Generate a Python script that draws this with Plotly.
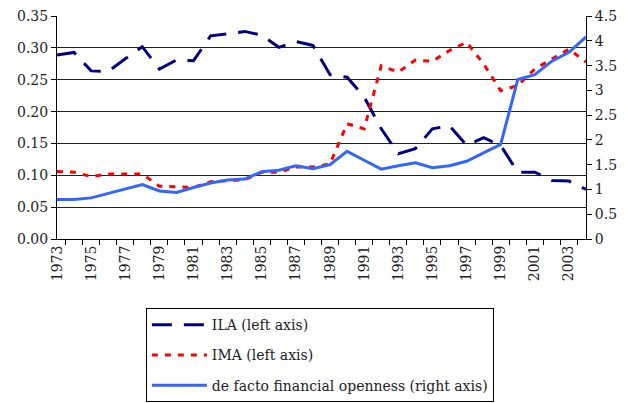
import plotly.graph_objects as go

years = [str(y) for y in range(1973, 2005)]

ila = [0.289, 0.293, 0.264, 0.263, 0.283, 0.302, 0.267, 0.281, 0.280, 0.319,
       0.322, 0.326, 0.320, 0.301, 0.310, 0.304, 0.258, 0.254, 0.223, 0.173,
       0.134, 0.142, 0.173, 0.178, 0.147, 0.159, 0.147, 0.105, 0.105, 0.092,
       0.091, 0.078]

ima = [0.106, 0.105, 0.098, 0.102, 0.102, 0.102, 0.083, 0.082, 0.081, 0.090,
       0.092, 0.093, 0.105, 0.105, 0.113, 0.113, 0.118, 0.181, 0.173, 0.272,
       0.262, 0.281, 0.279, 0.296, 0.309, 0.275, 0.233, 0.241, 0.267, 0.283,
       0.298, 0.278]

openness = [0.80, 0.80, 0.83, 0.92, 1.01, 1.10, 0.97, 0.94, 1.04, 1.13,
            1.19, 1.21, 1.36, 1.39, 1.48, 1.42, 1.50, 1.77, 1.59, 1.41,
            1.48, 1.54, 1.44, 1.48, 1.57, 1.74, 1.91, 3.22, 3.32, 3.59,
            3.77, 4.08]

year_labels = [y if i % 2 == 0 else "" for i, y in enumerate(years)]

font = "DejaVu Serif"

fig = go.Figure()

fig.add_trace(go.Scatter(
    x=years, y=ila, name="ILA (left axis)", mode="lines", legendgroup="a",
    line=dict(color="#000080", width=3, dash="20px,12px")
))
fig.add_trace(go.Scatter(
    x=years, y=ima, name="IMA (left axis)", mode="lines", legendgroup="b",
    line=dict(color="#FF0000", width=3, dash="6px,7px")
))
fig.add_trace(go.Scatter(
    x=years, y=openness, name="de facto financial openness (right axis)",
    mode="lines", yaxis="y2", legendgroup="c",
    line=dict(color="#3366FF", width=3)
))

# page body has an 8px margin, so the figure is drawn offset by (8, 8)
fig.update_layout(
    width=617, height=395,
    margin=dict(l=49, r=39, t=8, b=164, autoexpand=False),
    plot_bgcolor="white", paper_bgcolor="white",
    font=dict(family=font, size=14, color="#222"),
    xaxis=dict(
        type="category", tickmode="array", tickvals=years, ticktext=year_labels,
        tickangle=-90, tickson="boundaries", ticks="outside", ticklen=5,
        tickcolor="black", showline=True, linecolor="black", linewidth=1,
        showgrid=False
    ),
    yaxis=dict(
        range=[0, 0.3502], tickvals=[0, 0.05, 0.1, 0.15, 0.2, 0.25, 0.3, 0.35],
        tickformat=".2f", ticks="outside",
        ticklen=5, tickcolor="black", showline=True, linecolor="black",
        linewidth=1, gridcolor="#222", gridwidth=1, zeroline=False
    ),
    yaxis2=dict(
        range=[0, 4.5025], tickvals=[0, 0.5, 1, 1.5, 2, 2.5, 3, 3.5, 4, 4.5],
        overlaying="y", side="right",
        ticks="outside", ticklen=5, tickcolor="black", showline=True,
        linecolor="black", linewidth=1, showgrid=False, zeroline=False
    ),
    legend=dict(
        x=0.168, y=-0.31, xanchor="left", yanchor="top", itemwidth=55,
        bordercolor="black", borderwidth=1, tracegroupgap=9
    ),
)

fig.write_html("out.html")
